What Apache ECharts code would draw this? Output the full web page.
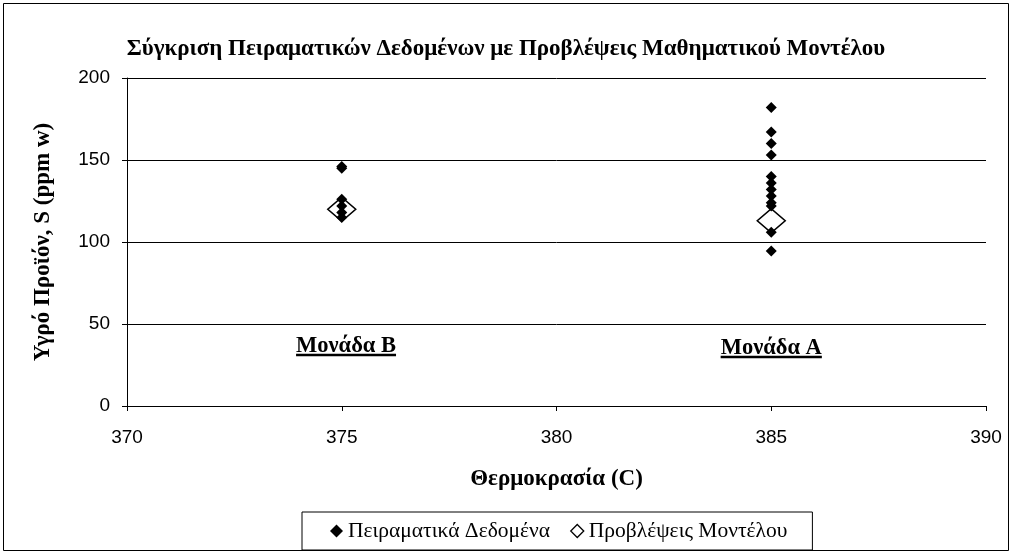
<!DOCTYPE html>
<html>
<head>
<meta charset="utf-8">
<script src="https://cdn.jsdelivr.net/npm/echarts@6/dist/echarts.min.js"></script>
<style>
  html, body { margin: 0; padding: 0; background: #fff; }
  #chart { width: 1012px; height: 554px; }
</style>
</head>
<body>
<div id="chart"></div>
<script>
// data
const unitBTemp = 375
const unitATemp = 385
const expUnitB = [146, 145, 126, 122, 118, 115]
const expUnitA = [182, 167, 160, 153, 140, 136, 132, 128, 124, 122, 106, 94.5]
const modelTemps = [375, 385]
const modelValues = [120, 113]
const unitLabels = ['Μονάδα B', 'Μονάδα A']
const unitLabelX = [375.1, 385]
const unitLabelY = [36.6, 35.4]

const serif = 'Liberation Serif'
const sans = 'Liberation Sans'
const nameSize = 23
const noteSize = 22.5

const expData = expUnitB.map(v => [unitBTemp, v]).concat(expUnitA.map(v => [unitATemp, v]))
const modelData = modelTemps.map((t, i) => [t, modelValues[i]])

const chart = echarts.init(document.getElementById('chart'))

const option = {
  animation: false,
  backgroundColor: '#fff',
  title: {
    text: 'Σύγκριση Πειραματικών Δεδομένων με Προβλέψεις Μαθηματικού Μοντέλου',
    left: 'center',
    top: 33,
    textStyle: { fontFamily: serif, fontWeight: 'bold', fontSize: nameSize, color: '#000' }
  },
  legend: {
    left: 302,
    top: 512,
    padding: [8, 25, 8, 28],
    itemGap: 20,
    itemWidth: 13,
    itemHeight: 13,
    borderColor: '#000',
    borderWidth: 1,
    textStyle: { fontFamily: serif, fontSize: 21.5, color: '#000' },
    data: [
      { name: 'Πειραματικά Δεδομένα', icon: 'diamond' },
      { name: 'Προβλέψεις Μοντέλου', icon: 'diamond',
        itemStyle: { color: '#fff', borderColor: '#000', borderWidth: 1.3 } }
    ]
  },
  grid: { left: 127, right: 26, top: 78, bottom: 148 },
  xAxis: {
    type: 'value',
    min: 370,
    max: 390,
    interval: 5,
    name: 'Θερμοκρασία (C)',
    nameLocation: 'middle',
    nameGap: 62,
    nameTextStyle: { fontFamily: serif, fontWeight: 'bold', fontSize: nameSize, color: '#000' },
    axisLine: { lineStyle: { color: '#000', width: 1 } },
    axisTick: { inside: false, length: 5, lineStyle: { color: '#000' } },
    axisLabel: { fontFamily: sans, fontSize: 19, color: '#000', margin: 22 },
    splitLine: { show: false }
  },
  yAxis: {
    type: 'value',
    min: 0,
    max: 200,
    interval: 50,
    name: 'Υγρό Προϊόν, S (ppm w)',
    nameLocation: 'middle',
    nameGap: 72,
    nameTextStyle: { fontFamily: serif, fontWeight: 'bold', fontSize: nameSize, color: '#000' },
    axisLine: { show: true, lineStyle: { color: '#000', width: 1 } },
    axisTick: { show: true, inside: false, length: 5, lineStyle: { color: '#000' } },
    axisLabel: { fontFamily: sans, fontSize: 19, color: '#000', margin: 17 },
    splitLine: { show: true, lineStyle: { color: '#000', width: 1 } }
  },
  series: [
    {
      name: 'Πειραματικά Δεδομένα',
      type: 'scatter',
      symbol: 'diamond',
      symbolSize: [11, 11],
      z: 3,
      itemStyle: { color: '#000', opacity: 1 },
      data: expData
    },
    {
      name: 'Προβλέψεις Μοντέλου',
      type: 'scatter',
      symbol: 'diamond',
      symbolSize: [28, 24],
      z: 2,
      itemStyle: { color: 'rgba(255,255,255,0)', borderColor: '#000', borderWidth: 1.5, opacity: 1 },
      data: modelData
    }
  ]
}

chart.setOption(option)

// unit annotations: bold text + underline, anchored in data coordinates
const ctx = document.createElement('canvas').getContext('2d')
ctx.font = 'bold ' + noteSize + 'px "' + serif + '"'

const graphics = [
  {
    id: 'frame',
    type: 'rect',
    shape: { x: 3.5, y: 3.5, width: 1005, height: 547 },
    style: { fill: 'none', stroke: '#000', lineWidth: 1 },
    silent: true,
    z: -1
  }
]
unitLabels.forEach((txt, i) => {
  const p = chart.convertToPixel({ gridIndex: 0 }, [unitLabelX[i], unitLabelY[i]])
  const w = ctx.measureText(txt).width
  graphics.push({
    id: 'note' + i,
    type: 'text',
    x: p[0],
    y: p[1],
    style: {
      text: txt,
      fontFamily: serif,
      fontWeight: 'bold',
      fontSize: noteSize,
      fill: '#000',
      align: 'center',
      verticalAlign: 'middle'
    },
    z: 10
  })
  graphics.push({
    id: 'under' + i,
    type: 'line',
    shape: { x1: p[0] - w / 2, y1: p[1] + 9, x2: p[0] + w / 2, y2: p[1] + 9 },
    style: { stroke: '#000', lineWidth: 2.5 },
    z: 10
  })
})
chart.setOption({ graphic: graphics })

window.addEventListener('resize', () => chart.resize())
</script>
</body>
</html>
